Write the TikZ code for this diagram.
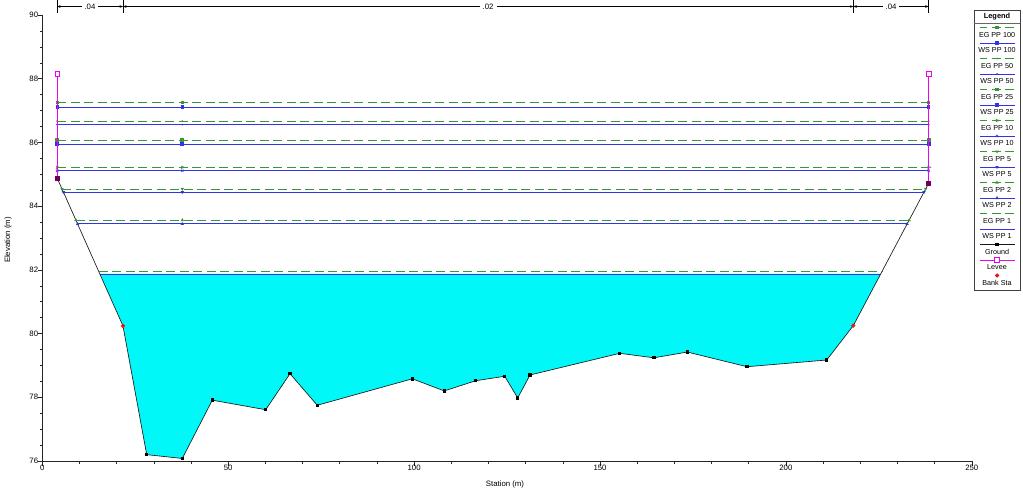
\documentclass[tikz,border=0pt]{standalone}
\usepackage{fontspec}
\setmainfont{Liberation Sans}
\usetikzlibrary{shapes.geometric,shapes.misc,arrows.meta}
\definecolor{egc}{RGB}{55,150,55}
\definecolor{wsc}{RGB}{50,50,230}
\definecolor{wat}{RGB}{0,248,248}
\definecolor{lev}{RGB}{240,0,240}
\definecolor{levbot}{RGB}{110,0,90}
\definecolor{bank}{RGB}{230,20,20}
\begin{document}
\begin{tikzpicture}[x=1pt,y=-1pt,
  font=\fontsize{7.2}{8.5}\selectfont,
  egline/.style={draw=egc,line width=0.8pt,dash pattern=on 9pt off 4.5pt},
  wsline/.style={draw=wsc,line width=0.95pt},
  gline/.style={draw=black!90,line width=0.65pt},
  levline/.style={draw=lev,line width=1pt},
  mkbase/.style={inner sep=0pt,outer sep=0pt,minimum size=3.2pt},
  mkeg100/.style={mkbase,rectangle,fill=egc},
  mkws100/.style={mkbase,rectangle,fill=wsc},
  mkeg50/.style={mkbase,circle,fill=egc,minimum size=2pt},
  mkws50/.style={mkbase,circle,fill=wsc,minimum size=2pt},
  mkeg25/.style={mkbase,rectangle,fill=egc,minimum size=3.8pt},
  mkws25/.style={mkbase,rectangle,fill=wsc,minimum size=3.8pt},
  mkeg10/.style={mkbase,isosceles triangle,draw=egc,line width=0.5pt,minimum size=2.5pt},
  mkws10/.style={mkbase,cross out,draw=wsc,line width=0.6pt,minimum size=2.5pt},
  mkeg5/.style={mkbase,regular polygon,regular polygon sides=3,shape border rotate=180,fill=egc,minimum size=4pt},
  mkws5/.style={mkbase,regular polygon,regular polygon sides=3,shape border rotate=180,fill=wsc,minimum size=4pt},
  mkeg2/.style={mkbase,regular polygon,regular polygon sides=3,fill=egc,minimum size=4pt},
  mkws2/.style={mkbase,regular polygon,regular polygon sides=3,fill=wsc,minimum size=4pt},
  mkeg1/.style={mkbase,minimum size=0pt},
  mkws1/.style={mkbase,minimum size=0pt},
  mkground/.style={mkbase,rectangle,fill=black,minimum size=3.4pt},
  mklevee/.style={mkbase,rectangle,draw=lev,fill=white,line width=0.6pt,minimum size=4.5pt},
  mklevbot/.style={mkbase,rectangle,fill=levbot,minimum size=5pt},
  mkbank/.style={mkbase,diamond,fill=bank,minimum size=4.5pt},
  lab/.style={inner sep=1pt},
  axlab/.style={inner sep=1pt,font=\fontsize{7.8}{9}\selectfont}
]
\useasboundingbox[fill=white] (0,0) rectangle (1023,491);

% ---------- data scope ----------
\begin{scope}[xshift=42.3pt,yshift=-2882.36pt,x=3.718pt,y=31.86pt]
  % water fill (WS PP 1)
  \fill[wat] (15.48,81.87) -- (21.7,80.24) -- (28.08,76.20) -- (37.65,76.08) -- (45.72,77.91)
    -- (60.09,77.61) -- (66.62,78.74) -- (73.96,77.75) -- (99.52,78.58) -- (108.12,78.20)
    -- (116.57,78.52) -- (124.37,78.66) -- (127.87,77.98) -- (131.17,78.70) -- (155.30,79.38)
    -- (164.52,79.24) -- (173.48,79.42) -- (189.54,78.96) -- (210.97,79.17) -- (218.13,80.25)
    -- (225.48,81.87) -- cycle;

  % axes
  \draw[black!85,line width=0.6pt] (0,90) -- (0,76) -- (250,76);
  \foreach \e in {76,76.5,...,90.1} \draw[black!85,line width=0.5pt] (0,\e) -- ++(-2.5pt,0);
  \foreach \e in {76,78,...,90} {
    \draw[black!85,line width=0.5pt] (0,\e) -- ++(-4pt,0);
    \node[axlab,anchor=east,xshift=-3pt] (yl\e) at (0,\e) {\e};
  }
  \foreach \s in {0,10,...,250} \draw[black!85,line width=0.5pt] (\s,76) -- ++(0,-3pt);
  \foreach \s in {0,50,...,250} {
    \draw[black!85,line width=0.5pt] (\s,76) -- ++(0,-5pt);
    \node[axlab,anchor=north,yshift=-3pt] (xl\s) at (\s,76) {\s};
  }

  % water surface / energy grade lines
  \foreach \k/\e/\l/\r/\st in {
      eg100/87.26/4/238.41/egline, ws100/87.11/4/238.41/wsline,
      eg50/86.67/4/238.41/egline,  ws50/86.56/4/238.41/wsline,
      eg25/86.07/4/238.41/egline,  ws25/85.94/4/238.41/wsline,
      eg10/85.22/4/238.41/egline,  ws10/85.11/4/238.41/wsline,
      eg5/84.54/5.30/237.59/egline, ws5/84.44/5.68/237.14/wsline,
      eg2/83.56/9.04/233.15/egline, ws2/83.44/9.49/232.60/wsline,
      eg1/81.96/15.14/225.89/egline, ws1/81.87/15.48/225.48/wsline} {
    \coordinate (\k-a) at (\l,\e);
    \coordinate (\k-b) at (\r,\e);
    \draw[\st] (\k-a) -- (\k-b);
  }

  % ground
  \draw[gline] (4,84.88) -- (21.7,80.24) -- (28.08,76.20) -- (37.65,76.08) -- (45.72,77.91)
    -- (60.09,77.61) -- (66.62,78.74) -- (73.96,77.75) -- (99.52,78.58) -- (108.12,78.20)
    -- (116.57,78.52) -- (124.37,78.66) -- (127.87,77.98) -- (131.17,78.70) -- (155.30,79.38)
    -- (164.52,79.24) -- (173.48,79.42) -- (189.54,78.96) -- (210.97,79.17) -- (218.13,80.25)
    -- (238.41,84.72);
  \foreach \s/\e [count=\i] in {28.08/76.20,37.65/76.08,45.72/77.91,60.09/77.61,66.62/78.74,
      73.96/77.75,99.52/78.58,108.12/78.20,116.57/78.52,124.37/78.66,127.87/77.98,131.17/78.70,
      155.30/79.38,164.52/79.24,173.48/79.42,189.54/78.96,210.97/79.17}
    \node[mkground] (gp\i) at (\s,\e) {};

  % markers on lines
  \foreach \k/\e/\l/\r in {
      eg100/87.26/4/238.41, ws100/87.11/4/238.41,
      eg50/86.67/4/238.41,  ws50/86.56/4/238.41,
      eg25/86.07/4/238.41,  ws25/85.94/4/238.41,
      eg10/85.22/4/238.41,  ws10/85.11/4/238.41,
      eg5/84.54/5.30/237.59, ws5/84.44/5.68/237.14,
      eg2/83.56/9.04/233.15, ws2/83.44/9.49/232.60} {
    \node[mk\k] (m\k-l) at (\l,\e) {};
    \node[mk\k] (m\k-c) at (37.65,\e) {};
    \node[mk\k] (m\k-r) at (\r,\e) {};
  }

  % levees
  \node[mklevbot] (lbL) at (4,84.88) {};
  \node[mklevbot] (lbR) at (238.41,84.72) {};
  \node[mklevee] (ltL) at (4,88.15) {};
  \node[mklevee] (ltR) at (238.41,88.15) {};
  \draw[levline] (ltL) -- (lbL);
  \draw[levline] (ltR) -- (lbR);

  % bank stations
  \node[mkbank] (bsL) at (21.7,80.24) {};
  \node[mkbank] (bsR) at (218.13,80.25) {};
\end{scope}

% ---------- Manning's n markers ----------
\foreach \x/\n in {57/a,123/b,853.3/c,928.7/d} {
  \coordinate (n\n t) at (\x,0);
  \coordinate (n\n b) at (\x,13);
  \coordinate (n\n m) at (\x,6.5);
  \draw[black,line width=0.5pt] (n\n t) -- (n\n b);
}
\tikzset{narrow/.style={black,line width=0.5pt,{Stealth[length=3.5pt,width=2.6pt]}-{Stealth[length=3.5pt,width=2.6pt]}}}
\draw[narrow] (nam) -- (nbm) node[midway,fill=white,axlab,inner xsep=3pt] (nlab1) {.04};
\draw[narrow] (nbm) -- (ncm) node[midway,fill=white,axlab,inner xsep=3pt] (nlab2) {.02};
\draw[narrow] (ncm) -- (ndm) node[midway,fill=white,axlab,inner xsep=3pt] (nlab3) {.04};

% axis titles
\node[axlab,rotate=90] (ytitle) at (8,240) {Elevation (m)};
\node[axlab] (xtitle) at (505,484) {Station (m)};

% ---------- legend ----------
\draw[black!75,line width=0.6pt] (974,10) rectangle (1020,290);
\node[lab,font=\fontsize{7.4}{8.5}\selectfont\bfseries] (leghead) at (997,17) {Legend};
\draw[black!60,line width=0.5pt] (974,23.5) -- (1020,23.5);
\foreach \t/\k/\st [count=\i] in {
    EG PP 100/eg100/egline, WS PP 100/ws100/wsline,
    EG PP 50/eg50/egline, WS PP 50/ws50/wsline,
    EG PP 25/eg25/egline, WS PP 25/ws25/wsline,
    EG PP 10/eg10/egline, WS PP 10/ws10/wsline,
    EG PP 5/eg5/egline, WS PP 5/ws5/wsline,
    EG PP 2/eg2/egline, WS PP 2/ws2/wsline,
    EG PP 1/eg1/egline, WS PP 1/ws1/wsline,
    Ground/ground/gline, Levee/levee/levline} {
  \pgfmathsetmacro{\ty}{35+15.5*(\i-1)}
  \draw[\st,dash phase=2pt,line width=0.75pt] (980,\ty-7.5) -- (1015,\ty-7.5);
  \node[mk\k] (lgm\i) at (997,\ty-7.5) {};
  \node[lab] (lgt\i) at (997,\ty) {\t};
}
\node[mkbank] (lgbank) at (997,275.5) {};
\node[lab] (lgbanktxt) at (997,283) {Bank Sta};
\end{tikzpicture}
\end{document}
